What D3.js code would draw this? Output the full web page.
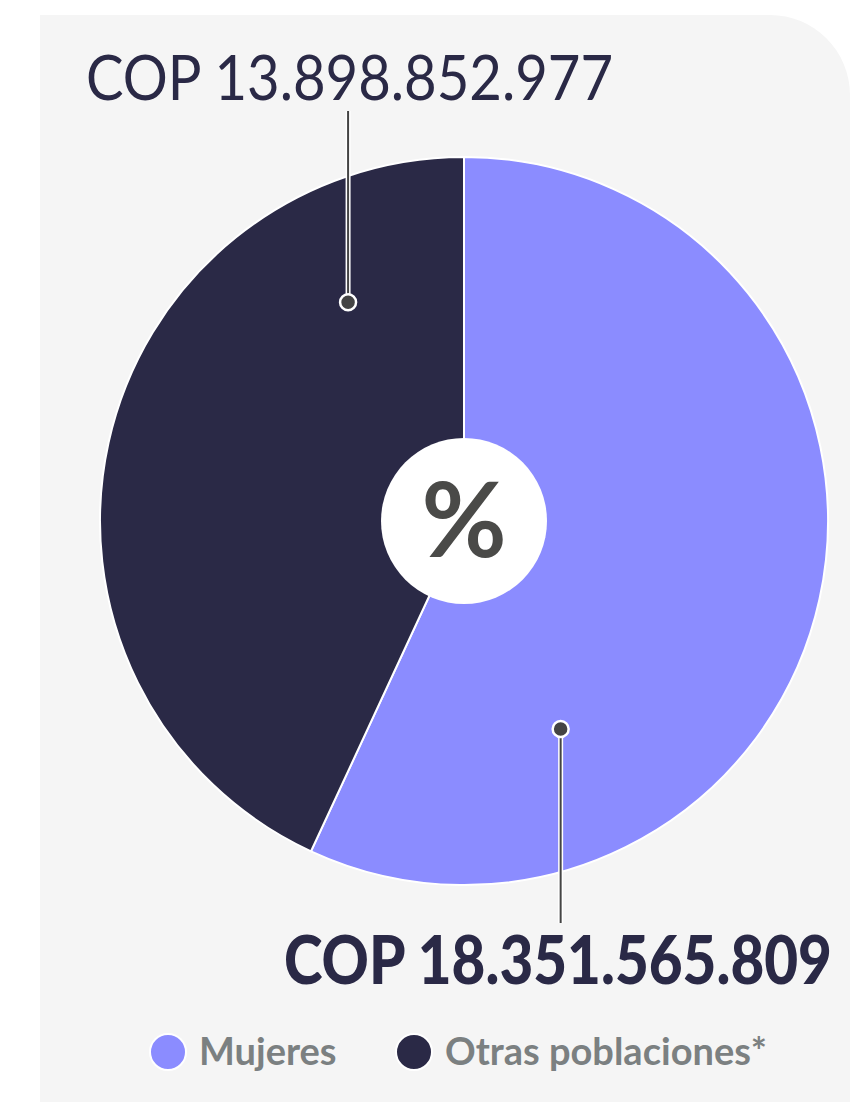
<!DOCTYPE html>
<html>
<head>
<meta charset="utf-8">
<script src="https://cdn.jsdelivr.net/npm/d3@7"></script>
<style>
  body { margin: 0; background: #fff; }
  svg { display: block; }
</style>
</head>
<body>
<div id="chart"></div>
<script>
var categories = ['Mujeres', 'Otras poblaciones*'];
var values = [18351565809, 13898852977];
var labels = ['COP 18.351.565.809', 'COP 13.898.852.977'];
var colors = ['#8b8cff', '#2a2946'];

var width = 850, height = 1102;
var cx = 464, cy = 521, radius = 364;

var svg = d3.select('#chart')
            .append('svg')
            .attr('width', width)
            .attr('height', height);

// panel with rounded top-right corner
var px = 40, py = 15, pw = width - px, ph = height - py, rc = 80;
svg.append('path')
   .attr('d', 'M' + px + ',' + py + ' H' + (px + pw - rc) +
              ' A' + rc + ',' + rc + ' 0 0 1 ' + (px + pw) + ',' + (py + rc) +
              ' V' + (py + ph) + ' H' + px + ' Z')
   .style('fill', '#f5f5f5');

var pie = d3.pie().sort(null).value(function(d){ return d; });
var arcs = pie(values);
var arc = d3.arc().innerRadius(0).outerRadius(radius);

var g = svg.append('g').attr('transform', 'translate(' + cx + ',' + cy + ')');

g.selectAll('path.slice')
 .data(arcs)
 .enter()
 .append('path')
 .attr('class', 'slice')
 .attr('d', arc)
 .style('fill', function(d, i){ return colors[i]; })
 .style('stroke', '#fff')
 .style('stroke-width', 2);

// center circle
g.append('circle').attr('r', 83).style('fill', '#fff');
g.append('text')
 .attr('y', 36)
 .attr('text-anchor', 'middle')
 .style('font-family', 'Lato, sans-serif')
 .style('font-weight', 700)
 .style('font-size', '104px')
 .style('fill', '#4a4a48')
 .text('%');

// leaders: dot inside slice (fraction along the slice, radius share), line out to label
var leaders = [
  {i: 0, t: 0.757, r: 0.63, y2: cy + 402},
  {i: 1, t: 0.82, r: 0.68, y2: cy - 410}
];
leaders.forEach(function(l){
  var a = arcs[l.i];
  var ang = a.startAngle + (a.endAngle - a.startAngle) * l.t;
  var x = Math.sin(ang) * radius * l.r;
  var y = -Math.cos(ang) * radius * l.r;
  var ly = l.y2 - cy;
  g.append('line')
   .attr('x1', x).attr('y1', y).attr('x2', x).attr('y2', ly)
   .style('stroke', '#fff').style('stroke-width', 5);
  g.append('line')
   .attr('x1', x).attr('y1', y).attr('x2', x).attr('y2', ly)
   .style('stroke', '#444').style('stroke-width', 2);
  g.append('circle')
   .attr('cx', x).attr('cy', y).attr('r', 8)
   .style('fill', '#444').style('stroke', '#fff').style('stroke-width', 2.5);
});

// value labels
svg.append('text')
   .attr('x', 86).attr('y', 100)
   .style('font-family', 'Lato, sans-serif')
   .style('font-weight', 400)
   .style('font-size', '62px')
   .style('fill', '#2a2946')
   .attr('textLength', 527)
   .attr('lengthAdjust', 'spacingAndGlyphs')
   .text(labels[1]);

svg.append('text')
   .attr('x', 284).attr('y', 984)
   .style('font-family', 'Lato, sans-serif')
   .style('font-weight', 900)
   .style('font-size', '66px')
   .style('fill', '#2a2946')
   .attr('textLength', 548)
   .attr('lengthAdjust', 'spacingAndGlyphs')
   .text(labels[0]);

// legend
var legendX = [168, 414];
var legend = svg.selectAll('g.legend')
                .data(categories)
                .enter()
                .append('g')
                .attr('class', 'legend')
                .attr('transform', function(d, i){ return 'translate(' + legendX[i] + ',1052)'; });
legend.append('circle')
      .attr('r', 18)
      .style('fill', function(d, i){ return colors[i]; })
      .style('stroke', '#fff')
      .style('stroke-width', 2);
legend.append('text')
      .attr('x', 31)
      .attr('y', 13)
      .style('font-family', 'Lato, sans-serif')
      .style('font-weight', 700)
      .style('font-size', '38px')
      .style('fill', '#7b8081')
      .text(function(d){ return d; });
</script>
</body>
</html>
